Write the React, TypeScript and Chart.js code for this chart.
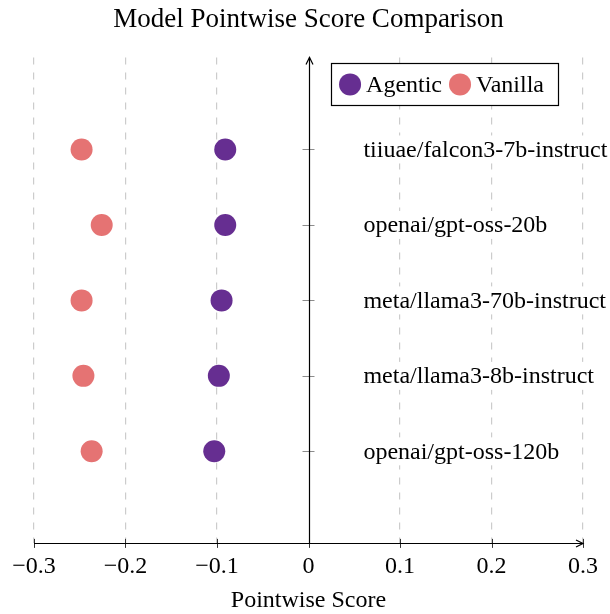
import React, { useEffect, useRef } from 'react';
import { Chart, registerables } from 'chart.js';

Chart.register(...registerables);

const models = [
  'tiiuae/falcon3-7b-instruct',
  'openai/gpt-oss-20b',
  'meta/llama3-70b-instruct',
  'meta/llama3-8b-instruct',
  'openai/gpt-oss-120b',
];
const modelRows = [5, 4, 3, 2, 1];
const agenticScores = [-0.091, -0.091, -0.095, -0.098, -0.103];
const vanillaScores = [-0.248, -0.226, -0.248, -0.246, -0.237];
const xTicks = [-0.3, -0.2, -0.1, 0, 0.1, 0.2, 0.3];
const seriesNames = ['Agentic', 'Vanilla'];
const seriesColors = ['#662E91', '#E57373'];
const chartTitle = 'Model Pointwise Score Comparison';
const xTitle = 'Pointwise Score';
const labelX = 0.06;

const FONT = '"Liberation Serif", "Times New Roman", serif';

const overlay = {
  id: 'overlay',
  beforeDatasetsDraw(chart: any) {
    const { ctx, chartArea } = chart;
    const xs = chart.scales.x;
    const ys = chart.scales.y;
    const x0 = xs.getPixelForValue(0);
    ctx.save();
    // y-axis tick marks (gray)
    ctx.strokeStyle = '#8c8c8c';
    ctx.lineWidth = 1;
    modelRows.forEach((r) => {
      const py = Math.round(ys.getPixelForValue(r)) + 0.5;
      ctx.beginPath();
      ctx.moveTo(x0 - 6, py);
      ctx.lineTo(x0 + 6, py);
      ctx.stroke();
    });
    // x-axis tick marks
    ctx.strokeStyle = '#333';
    xTicks.forEach((v) => {
      const px = Math.round(xs.getPixelForValue(v)) + 0.5;
      ctx.beginPath();
      ctx.moveTo(px, chartArea.bottom - 4.5);
      ctx.lineTo(px, chartArea.bottom + 4.5);
      ctx.stroke();
    });
    // axes lines
    ctx.strokeStyle = '#000';
    ctx.lineWidth = 1.2;
    const by = Math.round(chartArea.bottom) + 0.5;
    ctx.beginPath();
    ctx.moveTo(chartArea.left, by);
    ctx.lineTo(chartArea.right, by);
    ctx.stroke();
    ctx.beginPath();
    ctx.moveTo(chartArea.right - 7, by - 3.5);
    ctx.lineTo(chartArea.right, by);
    ctx.lineTo(chartArea.right - 7, by + 3.5);
    ctx.stroke();
    const ax = Math.round(x0) + 0.5;
    ctx.beginPath();
    ctx.moveTo(ax, chartArea.bottom);
    ctx.lineTo(ax, chartArea.top);
    ctx.stroke();
    ctx.beginPath();
    ctx.moveTo(ax - 3.5, chartArea.top + 7);
    ctx.lineTo(ax, chartArea.top);
    ctx.lineTo(ax + 3.5, chartArea.top + 7);
    ctx.stroke();
    ctx.restore();
  },
  afterDatasetsDraw(chart: any) {
    const { ctx, chartArea } = chart;
    const xs = chart.scales.x;
    const ys = chart.scales.y;
    ctx.save();
    ctx.font = `24px ${FONT}`;
    ctx.textBaseline = 'middle';
    ctx.textAlign = 'left';
    const lx = xs.getPixelForValue(labelX);
    models.forEach((m, i) => {
      const py = ys.getPixelForValue(modelRows[i]);
      const w = ctx.measureText(m).width;
      ctx.fillStyle = '#fff';
      ctx.fillRect(lx - 3, py - 14, w + 6, 28);
      ctx.fillStyle = '#000';
      ctx.fillText(m, lx, py + 1);
    });
    // legend
    const r = 11;
    const w0 = ctx.measureText(seriesNames[0]).width;
    const w1 = ctx.measureText(seriesNames[1]).width;
    const boxW = 19 + 16 + w0 + 18 + 16 + w1 + 14;
    const boxH = 42;
    const bx = chartArea.right - 25 - boxW;
    const byTop = chartArea.top + 6;
    ctx.fillStyle = '#fff';
    ctx.fillRect(bx, byTop, boxW, boxH);
    ctx.strokeStyle = '#000';
    ctx.lineWidth = 1.2;
    ctx.strokeRect(Math.round(bx) + 0.5, Math.round(byTop) + 0.5, Math.round(boxW), boxH);
    const cy = byTop + boxH / 2;
    let cx = bx + 19;
    seriesNames.forEach((name, i) => {
      ctx.fillStyle = seriesColors[i];
      ctx.beginPath();
      ctx.arc(cx, cy, r, 0, Math.PI * 2);
      ctx.fill();
      ctx.fillStyle = '#000';
      ctx.fillText(name, cx + 16, cy + 1);
      cx = cx + 16 + ctx.measureText(name).width + 18;
    });
    ctx.restore();
  },
};

export default function App() {
  const ref = useRef<HTMLCanvasElement>(null);
  useEffect(() => {
    if (!ref.current) return;
    const mk = (vals: number[]) => vals.map((v, i) => ({ x: v, y: modelRows[i] }));
    const chart = new Chart(ref.current, {
      type: 'scatter',
      data: {
        datasets: [
          {
            label: seriesNames[0],
            data: mk(agenticScores),
            backgroundColor: seriesColors[0],
            borderWidth: 0,
            pointRadius: 11,
            pointHoverRadius: 11,
          },
          {
            label: seriesNames[1],
            data: mk(vanillaScores),
            backgroundColor: seriesColors[1],
            borderWidth: 0,
            pointRadius: 11,
            pointHoverRadius: 11,
          },
        ],
      },
      options: {
        responsive: false,
        animation: false,
        events: [],
        layout: { padding: { left: 34, right: 27, top: 0, bottom: 0 } },
        plugins: {
          legend: { display: false },
          tooltip: { enabled: false },
          title: {
            display: true,
            text: chartTitle,
            color: '#000',
            font: { family: FONT, size: 27, weight: 'normal' },
            padding: { top: 4, bottom: 21 },
          },
        },
        scales: {
          x: {
            type: 'linear',
            min: -0.3,
            max: 0.3,
            afterBuildTicks: (s: any) => {
              s.ticks = xTicks.map((v) => ({ value: v }));
            },
            grid: {
              color: (c: any) => (c.tick && Math.abs(c.tick.value) < 1e-9 ? 'rgba(0,0,0,0)' : '#cccccc'),
              lineWidth: 1.2,
              drawTicks: false,
            },
            border: { display: false, dash: [7, 8] },
            ticks: {
              color: '#000',
              font: { family: FONT, size: 24 },
              padding: 9,
              maxRotation: 0,
              autoSkip: false,
              callback: (v: any) => {
                const n = Number(v);
                if (Math.abs(n) < 1e-9) return '0';
                return (n < 0 ? '\u2212' : '') + Math.abs(n).toFixed(1);
              },
            },
            title: {
              display: true,
              text: xTitle,
              color: '#000',
              font: { family: FONT, size: 24 },
              padding: { top: -4, bottom: -1 },
            },
          },
          y: {
            type: 'linear',
            min: -0.22,
            max: 6.22,
            display: false,
          },
        },
      },
      plugins: [overlay],
    });
    return () => chart.destroy();
  }, []);
  return (
    <div style={{ position: 'fixed', left: 0, top: 0, width: 610, height: 614, background: '#fff' }}>
      <canvas ref={ref} width={610} height={614} style={{ display: 'block', width: 610, height: 614 }} />
    </div>
  );
}
